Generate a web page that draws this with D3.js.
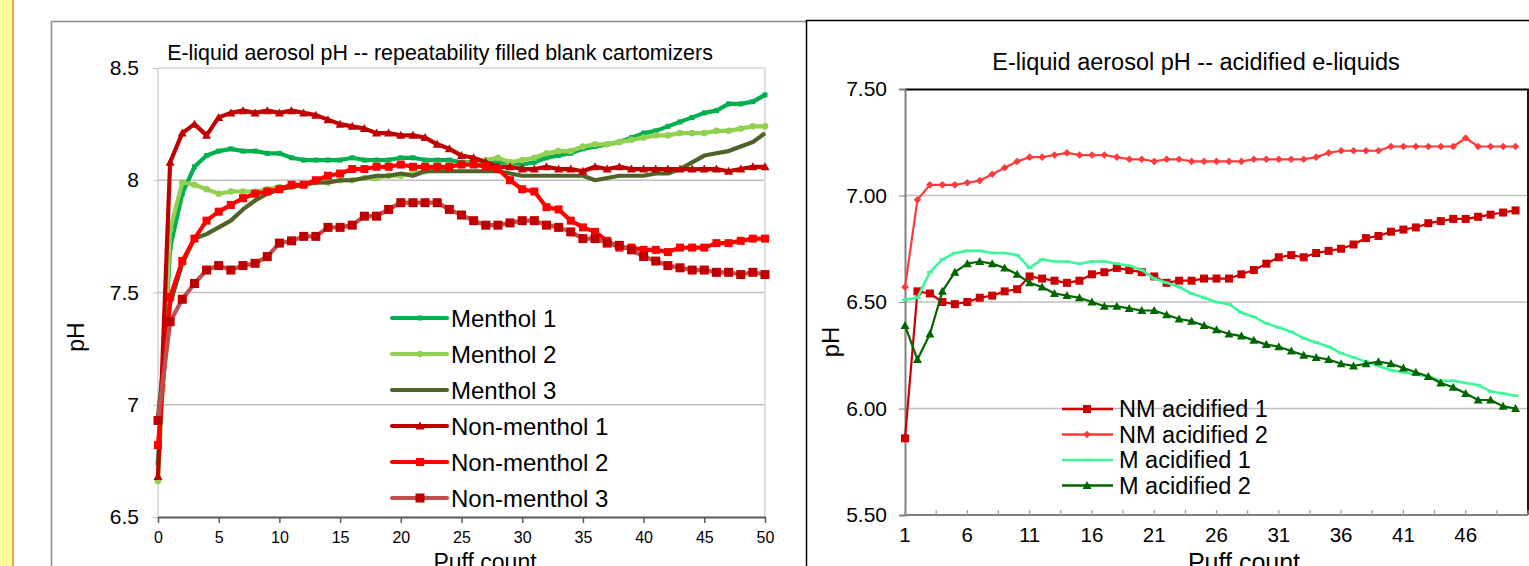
<!DOCTYPE html>
<html>
<head>
<meta charset="utf-8">
<script src="https://cdn.jsdelivr.net/npm/d3@7"></script>
<style>
  html, body { margin: 0; padding: 0; background: #fff; }
  svg { display: block; font-family: "Liberation Sans", Arial, sans-serif; }
</style>
</head>
<body>
<svg id="chart" width="1529" height="566"></svg>
<script>
// ---- left chart data: puffs 0..50 ----
const menthol1 = [6.74, 7.70, 7.94, 8.06, 8.11, 8.13, 8.14, 8.13, 8.13, 8.12, 8.12, 8.10, 8.09, 8.09, 8.09, 8.09, 8.10, 8.09, 8.09, 8.09,
  8.10, 8.10, 8.09, 8.09, 8.09, 8.08, 8.08, 8.08, 8.08, 8.08, 8.07, 8.08, 8.10, 8.11, 8.12, 8.14, 8.15, 8.16, 8.17, 8.19,
  8.21, 8.22, 8.24, 8.26, 8.28, 8.30, 8.31, 8.34, 8.34, 8.35, 8.38];
const menthol2 = [6.66, 7.78, 7.99, 7.98, 7.96, 7.94, 7.95, 7.95, 7.95, 7.96, 7.97, 7.97, 7.98, 7.99, 7.99, 8.00, 8.00, 8.01, 8.01, 8.02,
  8.02, 8.03, 8.04, 8.05, 8.06, 8.07, 8.08, 8.09, 8.10, 8.08, 8.09, 8.10, 8.12, 8.13, 8.13, 8.15, 8.16, 8.16, 8.17, 8.18,
  8.19, 8.20, 8.20, 8.21, 8.21, 8.21, 8.22, 8.22, 8.23, 8.24, 8.24];
const menthol3 = [6.95, 7.45, 7.63, 7.74, 7.76, 7.79, 7.82, 7.87, 7.91, 7.94, 7.96, 7.97, 7.98, 7.99, 7.99, 8.00, 8.00, 8.01, 8.02, 8.02,
  8.03, 8.02, 8.04, 8.04, 8.04, 8.04, 8.04, 8.04, 8.04, 8.03, 8.02, 8.02, 8.02, 8.02, 8.02, 8.02, 8.00, 8.01, 8.02, 8.02,
  8.02, 8.03, 8.03, 8.05, 8.08, 8.11, 8.12, 8.13, 8.15, 8.17, 8.21];
const nonMenthol1 = [6.68, 8.08, 8.21, 8.25, 8.20, 8.28, 8.30, 8.31, 8.30, 8.31, 8.30, 8.31, 8.30, 8.29, 8.27, 8.25, 8.24, 8.23, 8.21, 8.21,
  8.20, 8.20, 8.19, 8.16, 8.14, 8.11, 8.10, 8.08, 8.06, 8.06, 8.05, 8.05, 8.06, 8.05, 8.05, 8.04, 8.06, 8.05, 8.06, 8.05,
  8.05, 8.05, 8.05, 8.05, 8.05, 8.05, 8.05, 8.04, 8.05, 8.06, 8.06];
const nonMenthol2 = [6.82, 7.48, 7.64, 7.74, 7.82, 7.86, 7.89, 7.92, 7.94, 7.95, 7.96, 7.98, 7.98, 8.00, 8.02, 8.03, 8.05, 8.05, 8.06, 8.06,
  8.07, 8.06, 8.06, 8.06, 8.06, 8.07, 8.07, 8.06, 8.05, 8.00, 7.96, 7.95, 7.88, 7.87, 7.82, 7.79, 7.77, 7.73, 7.70, 7.70,
  7.69, 7.69, 7.68, 7.70, 7.70, 7.70, 7.72, 7.72, 7.73, 7.74, 7.74];
const nonMenthol3 = [6.93, 7.37, 7.47, 7.54, 7.60, 7.62, 7.60, 7.62, 7.63, 7.66, 7.72, 7.73, 7.75, 7.75, 7.79, 7.79, 7.80, 7.84, 7.84, 7.87,
  7.90, 7.90, 7.90, 7.90, 7.87, 7.845, 7.82, 7.80, 7.80, 7.81, 7.82, 7.82, 7.80, 7.79, 7.77, 7.74, 7.74, 7.72, 7.71, 7.69,
  7.66, 7.64, 7.62, 7.61, 7.60, 7.60, 7.59, 7.59, 7.58, 7.59, 7.58];
const leftYTicks = [6.5, 7, 7.5, 8, 8.5];
const leftXTicks = [0, 5, 10, 15, 20, 25, 30, 35, 40, 45, 50];

// ---- right chart data: puffs 1..50 ----
const nmAcidified1 = [5.86, 6.55, 6.54, 6.50, 6.49, 6.50, 6.52, 6.53, 6.55, 6.56, 6.62, 6.61, 6.60, 6.59, 6.60, 6.63, 6.64, 6.66, 6.65, 6.64,
  6.62, 6.59, 6.60, 6.60, 6.61, 6.61, 6.61, 6.63, 6.65, 6.68, 6.71, 6.72, 6.71, 6.73, 6.74, 6.75, 6.77, 6.80, 6.81, 6.83,
  6.84, 6.85, 6.87, 6.88, 6.89, 6.89, 6.90, 6.91, 6.92, 6.93];
const nmAcidified2 = [6.57, 6.98, 7.05, 7.05, 7.05, 7.06, 7.07, 7.10, 7.13, 7.16, 7.18, 7.18, 7.19, 7.20, 7.19, 7.19, 7.19, 7.18, 7.17, 7.17,
  7.16, 7.17, 7.17, 7.16, 7.16, 7.16, 7.16, 7.16, 7.17, 7.17, 7.17, 7.17, 7.17, 7.18, 7.20, 7.21, 7.21, 7.21, 7.21, 7.23,
  7.23, 7.23, 7.23, 7.23, 7.23, 7.27, 7.23, 7.23, 7.23, 7.23];
const mAcidified1 = [6.51, 6.52, 6.64, 6.70, 6.73, 6.74, 6.74, 6.73, 6.73, 6.72, 6.66, 6.70, 6.69, 6.69, 6.68, 6.69, 6.69, 6.68, 6.67, 6.65,
  6.61, 6.59, 6.57, 6.54, 6.52, 6.50, 6.49, 6.45, 6.43, 6.40, 6.38, 6.36, 6.33, 6.31, 6.29, 6.26, 6.24, 6.22, 6.20, 6.18,
  6.17, 6.16, 6.15, 6.13, 6.13, 6.12, 6.11, 6.08, 6.07, 6.06];
const mAcidified2 = [6.39, 6.23, 6.35, 6.55, 6.64, 6.68, 6.69, 6.68, 6.66, 6.63, 6.59, 6.57, 6.54, 6.53, 6.52, 6.50, 6.48, 6.48, 6.47, 6.46,
  6.46, 6.44, 6.42, 6.41, 6.39, 6.37, 6.35, 6.34, 6.32, 6.30, 6.29, 6.27, 6.25, 6.24, 6.23, 6.21, 6.20, 6.21, 6.22, 6.21,
  6.19, 6.17, 6.15, 6.12, 6.10, 6.07, 6.04, 6.04, 6.01, 6.00];
const rightYTicks = [5.5, 6.0, 6.5, 7.0, 7.5];
const rightXLabels = [1, 6, 11, 16, 21, 26, 31, 36, 41, 46];

const svg = d3.select('#chart');

// yellow strip at far left
svg.append('rect').attr('x', 0).attr('y', 0).attr('width', 12).attr('height', 566).attr('fill', '#FFFF99');
svg.append('rect').attr('x', 12).attr('y', 0).attr('width', 2).attr('height', 566).attr('fill', '#F5A54A');

// panel frames
svg.append('path').attr('d', 'M51.5,566 V21.5 H806').attr('fill', 'none').attr('stroke', '#8c8c8c').attr('stroke-width', 1.5);
svg.append('path').attr('d', 'M806.5,566 V20.5 H1529').attr('fill', 'none').attr('stroke', '#000').attr('stroke-width', 1.5);

function marker(g, shape, cx, cy, color) {
    if (shape === 'square' || shape === 'bigsquare' || shape === 'smallsquare') {
        const s = shape === 'bigsquare' ? 9 : shape === 'square' ? 8 : 5;
        g.append('rect').attr('x', cx - s / 2).attr('y', cy - s / 2).attr('width', s).attr('height', s).attr('fill', color);
    } else if (shape === 'circle') {
        g.append('circle').attr('cx', cx).attr('cy', cy).attr('r', 3.3).attr('fill', color);
    } else if (shape === 'triangle') {
        g.append('path').attr('d', `M${cx},${cy - 4.5} L${cx + 4.5},${cy + 3.5} L${cx - 4.5},${cy + 3.5} Z`).attr('fill', color);
    } else if (shape === 'diamond') {
        g.append('path').attr('d', `M${cx},${cy - 3.8} L${cx + 3.8},${cy} L${cx},${cy + 3.8} L${cx - 3.8},${cy} Z`).attr('fill', color);
    } else if (shape === 'dash') {
        g.append('rect').attr('x', cx - 3).attr('y', cy - 1.2).attr('width', 6).attr('height', 2.4).attr('fill', color);
    }
}

// ================= LEFT CHART =================
(function () {
    const x = d3.scaleLinear().domain([0, 50]).range([158, 765]);
    const y = d3.scaleLinear().domain([6.5, 8.5]).range([517, 68]);
    const g = svg.append('g');

    // grid
    g.selectAll('.grid').data(leftYTicks.filter(v => v > 6.5)).join('line')
        .attr('x1', 158).attr('x2', 765).attr('y1', d => y(d)).attr('y2', d => y(d))
        .attr('stroke', d => d === 8.5 ? '#d4d4d4' : '#bfbfbf').attr('stroke-width', 1.3);
    g.append('line').attr('x1', 765).attr('x2', 765).attr('y1', 68).attr('y2', 517).attr('stroke', '#d4d4d4').attr('stroke-width', 1.5);
    g.append('line').attr('x1', 158).attr('x2', 158).attr('y1', 68).attr('y2', 517).attr('stroke', '#c8c8c8').attr('stroke-width', 1.2);

    // y axis
    const yAxis = d3.axisLeft(y).tickValues(leftYTicks).tickSize(5).tickPadding(14).tickFormat(d3.format('~g'));
    const ya = g.append('g').attr('transform', 'translate(158,0)').call(yAxis);
    ya.select('.domain').remove();
    ya.selectAll('line').attr('stroke', '#bfbfbf');
    ya.selectAll('text').attr('font-size', 21).attr('fill', '#000').attr('font-family', '"Liberation Sans", Arial, sans-serif');

    // x axis
    const xAxis = d3.axisBottom(x).tickValues(leftXTicks).tickSize(6).tickSizeOuter(0).tickPadding(9);
    const xa = g.append('g').attr('transform', 'translate(0,517)').call(xAxis);
    xa.select('.domain').attr('stroke', '#595959').attr('stroke-width', 2);
    xa.selectAll('line').attr('stroke', '#595959').attr('stroke-width', 1.5);
    xa.selectAll('text').attr('font-size', 16).attr('fill', '#000').attr('font-family', '"Liberation Sans", Arial, sans-serif');

    const series = [
        { name: 'Menthol 1', data: menthol1, line: '#00B050', mark: '#00B050', shape: 'smallsquare' },
        { name: 'Menthol 2', data: menthol2, line: '#92D050', mark: '#92D050', shape: 'circle' },
        { name: 'Menthol 3', data: menthol3, line: '#4F6228', mark: null, shape: null },
        { name: 'Non-menthol 1', data: nonMenthol1, line: '#C00000', mark: '#C00000', shape: 'triangle' },
        { name: 'Non-menthol 2', data: nonMenthol2, line: '#FF0000', mark: '#FF0000', shape: 'square' },
        { name: 'Non-menthol 3', data: nonMenthol3, line: '#C0504D', mark: '#C00000', shape: 'bigsquare' }
    ];

    const line = d3.line().x((d, i) => x(i)).y(d => y(d));
    series.forEach(s => {
        const sg = g.append('g');
        sg.append('path').attr('d', line(s.data)).attr('fill', 'none').attr('stroke', s.line)
            .attr('stroke-width', 4.2).attr('stroke-linejoin', 'round');
        if (s.shape) s.data.forEach((v, i) => marker(sg, s.shape, x(i), y(v), s.mark));
    });

    // legend
    const lg = g.append('g');
    series.forEach((s, i) => {
        const ly = 318 + i * 36;
        lg.append('line').attr('x1', 392).attr('x2', 447).attr('y1', ly).attr('y2', ly)
            .attr('stroke', s.line).attr('stroke-width', 4.2).attr('stroke-linecap', 'round');
        if (s.shape) marker(lg, s.shape, 420, ly, s.mark);
        lg.append('text').attr('x', 451).attr('y', ly).attr('dy', '0.36em').attr('font-size', 24).text(s.name);
    });

    // titles
    g.append('text').attr('x', 440).attr('y', 60).attr('text-anchor', 'middle').attr('font-size', 21.4)
        .text('E-liquid aerosol pH -- repeatability filled blank cartomizers');
    g.append('text').attr('transform', 'translate(84,337) rotate(-90)').attr('text-anchor', 'middle').attr('font-size', 23).text('pH');
    // axis title sits partly below the picture edge, as in the source image
    g.append('text').attr('x', 485).attr('y', 570).attr('text-anchor', 'middle').attr('font-size', 23).text('Puff count');
})();

// ================= RIGHT CHART =================
(function () {
    const x = d3.scaleLinear().domain([1, 51]).range([905, 1528]);
    const y = d3.scaleLinear().domain([5.5, 7.5]).range([515, 89]);
    const g = svg.append('g');

    g.selectAll('.grid').data(rightYTicks.filter(v => v > 5.5 && v < 7.5)).join('line')
        .attr('x1', 905).attr('x2', 1528).attr('y1', d => y(d)).attr('y2', d => y(d))
        .attr('stroke', '#bfbfbf').attr('stroke-width', 1.3);
    g.append('path').attr('d', 'M905,89.5 H1528 V515').attr('fill', 'none').attr('stroke', '#000').attr('stroke-width', 1.8);

    const yAxis = d3.axisLeft(y).tickValues(rightYTicks).tickSize(6).tickPadding(12).tickFormat(d3.format('.2f'));
    const ya = g.append('g').attr('transform', 'translate(905,0)').call(yAxis);
    ya.select('.domain').attr('stroke', '#808080').attr('stroke-width', 2);
    ya.selectAll('line').attr('stroke', '#808080');
    ya.selectAll('text').attr('font-size', 21).attr('fill', '#000').attr('font-family', '"Liberation Sans", Arial, sans-serif');

    // x axis: minor marks every 2.5 puffs, labels every 5
    const markVals = d3.range(1, 51.01, 2.5);
    const xa = g.append('g').attr('transform', 'translate(0,515)');
    xa.append('line').attr('x1', 905).attr('x2', 1528).attr('stroke', '#808080').attr('stroke-width', 2);
    xa.selectAll('.tk').data(markVals).join('line')
        .attr('x1', d => x(d)).attr('x2', d => x(d)).attr('y1', 0).attr('y2', -5)
        .attr('stroke', '#a0a0a0').attr('stroke-width', 1.2);
    xa.selectAll('.lb').data(rightXLabels).join('text')
        .attr('x', d => x(d)).attr('y', 27).attr('text-anchor', 'middle').attr('font-size', 20.5).text(d => d);

    const series = [
        { name: 'NM acidified 1', data: nmAcidified1, color: '#CC0000', shape: 'square' },
        { name: 'NM acidified 2', data: nmAcidified2, color: '#FF3B3B', shape: 'diamond' },
        { name: 'M acidified 1', data: mAcidified1, color: '#3DF79A', shape: 'dash' },
        { name: 'M acidified 2', data: mAcidified2, color: '#006600', shape: 'triangle' }
    ];
    const line = d3.line().x((d, i) => x(i + 1)).y(d => y(d));
    series.forEach(s => {
        const sg = g.append('g');
        sg.append('path').attr('d', line(s.data)).attr('fill', 'none').attr('stroke', s.color)
            .attr('stroke-width', s.shape === 'dash' ? 2.6 : 2.2).attr('stroke-linejoin', 'round');
        s.data.forEach((v, i) => marker(sg, s.shape, x(i + 1), y(v), s.color));
    });

    const lg = g.append('g');
    series.forEach((s, i) => {
        const ly = 409 + i * 25.5;
        lg.append('line').attr('x1', 1062).attr('x2', 1113).attr('y1', ly).attr('y2', ly)
            .attr('stroke', s.color).attr('stroke-width', 2.4);
        marker(lg, s.shape, 1087, ly, s.color);
        lg.append('text').attr('x', 1119).attr('y', ly).attr('dy', '0.36em').attr('font-size', 23.5).text(s.name);
    });

    g.append('text').attr('x', 1196).attr('y', 70).attr('text-anchor', 'middle').attr('font-size', 23.5)
        .text('E-liquid aerosol pH -- acidified e-liquids');
    g.append('text').attr('transform', 'translate(839,342) rotate(-90)').attr('text-anchor', 'middle').attr('font-size', 24).text('pH');
    g.append('text').attr('x', 1244).attr('y', 571).attr('text-anchor', 'middle').attr('font-size', 25).text('Puff count');
})();
</script>
</body>
</html>
